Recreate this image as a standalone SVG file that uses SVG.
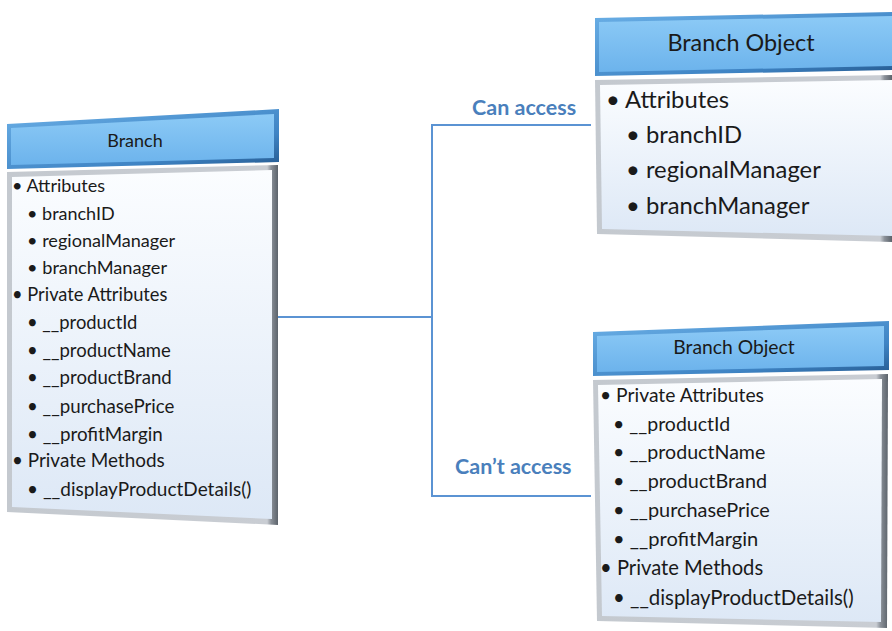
<svg xmlns="http://www.w3.org/2000/svg" width="892" height="631" viewBox="0 0 892 631">
<defs>
<linearGradient id="hdrOuter" x1="0" y1="0" x2="1" y2="1">
<stop offset="0" stop-color="#6aafe6"/>
<stop offset="0.7" stop-color="#3f84c4"/>
<stop offset="1" stop-color="#24598f"/>
</linearGradient>
<linearGradient id="hdrInner" x1="0" y1="0" x2="0" y2="1">
<stop offset="0" stop-color="#8ccaf6"/>
<stop offset="1" stop-color="#6cb3ec"/>
</linearGradient>
<linearGradient id="bodyOuter" x1="0" y1="0" x2="1" y2="0">
<stop offset="0" stop-color="#c4c9cf"/>
<stop offset="0.96" stop-color="#c9cdd3"/>
<stop offset="0.975" stop-color="#8a9098"/>
<stop offset="1" stop-color="#5c636b"/>
</linearGradient>
<linearGradient id="bodyInner" x1="0" y1="0" x2="0" y2="1">
<stop offset="0" stop-color="#fbfdff"/>
<stop offset="1" stop-color="#dde8f6"/>
</linearGradient>
<style>
.ho{fill:url(#hdrOuter)}
.hi{fill:url(#hdrInner)}
.bo{fill:url(#bodyOuter)}
.bi{fill:url(#bodyInner)}
.t{font-family:Lato,"Liberation Sans",sans-serif;fill:#1a1a1a}
.lbl{font-family:Lato,"Liberation Sans",sans-serif;font-weight:bold;font-size:21.5px;fill:#4a7fbc}
.conn{fill:none;stroke:#5b93d3;stroke-width:2}
</style>
</defs>
<rect width="892" height="631" fill="#ffffff"/>

<g id="connectors">
<polyline class="conn" points="275,317 432,317"/>
<polyline class="conn" points="591,125 432,125 432,496 591,496"/>
<text class="lbl" x="472" y="115">Can access</text>
<text class="lbl" x="455" y="474">Can’t access</text>
</g>

<g id="branch">
<polygon class="bo" points="7,172 278,165 278,525 7,512"/>
<polygon class="bi" points="12,177 272,170 272,519 12,507"/>
<polygon class="ho" points="7,124 279,109 279,162 7,169"/>
<polygon class="hi" points="11,128 274,114 274,158 11,165"/>
<text class="t" font-size="18" x="135" y="147" text-anchor="middle">Branch</text>
<g class="t">
<text font-size="18" x="12" y="192">• Attributes</text>
<text font-size="18" x="27" y="220">• branchID</text>
<text font-size="18.1" x="27" y="247">• regionalManager</text>
<text font-size="18.2" x="27" y="274">• branchManager</text>
<text font-size="18.3" x="12" y="301">• Private Attributes</text>
<text font-size="18.4" x="27" y="329">• __productId</text>
<text font-size="18.5" x="27" y="357">• __productName</text>
<text font-size="18.6" x="27" y="384">• __productBrand</text>
<text font-size="18.7" x="27" y="413">• __purchasePrice</text>
<text font-size="18.8" x="27" y="441">• __profitMargin</text>
<text font-size="18.9" x="12" y="467">• Private Methods</text>
<text font-size="19" x="27" y="496">• __displayProductDetails()</text>
</g>
</g>

<g id="branch-object-public">
<polygon class="bo" points="595,80 892,75 892,242 597,234"/>
<polygon class="bi" points="600,85 892,80 892,236 602,229"/>
<polygon class="ho" points="595,18 892,12 892,70 595,76"/>
<polygon class="hi" points="599,22 892,16 892,66 599,72"/>
<text class="t" font-size="23.4" x="741" y="51" text-anchor="middle">Branch Object</text>
<g class="t" font-size="23.8">
<text x="606" y="108">• Attributes</text>
<text x="626" y="143">• branchID</text>
<text x="626" y="178">• regionalManager</text>
<text x="626" y="214">• branchManager</text>
</g>
</g>

<g id="branch-object-private">
<polygon class="bo" points="593,380 888,374 887,628 597,621"/>
<polygon class="bi" points="598,385 882,379 881,622 602,616"/>
<polygon class="ho" points="593,332 889,321 889,370 593,376"/>
<polygon class="hi" points="597,336 884,326 884,366 597,372"/>
<text class="t" font-size="19.3" x="734" y="354" text-anchor="middle">Branch Object</text>
<g class="t">
<text font-size="19.3" x="600" y="402">• Private Attributes</text>
<text font-size="19.5" x="613" y="431">• __productId</text>
<text font-size="19.6" x="613" y="459">• __productName</text>
<text font-size="19.8" x="613" y="488">• __productBrand</text>
<text font-size="19.9" x="613" y="517">• __purchasePrice</text>
<text font-size="20.1" x="613" y="546">• __profitMargin</text>
<text font-size="20.2" x="600" y="575">• Private Methods</text>
<text font-size="20.4" x="613" y="605">• __displayProductDetails()</text>
</g>
</g>
</svg>
